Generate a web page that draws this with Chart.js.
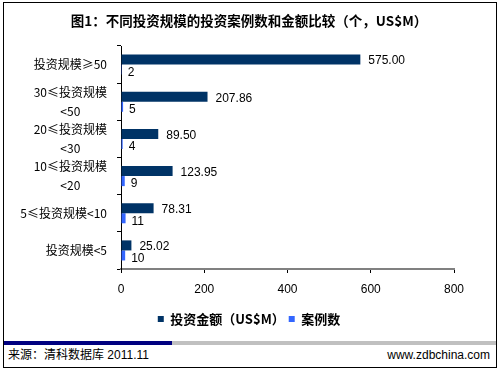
<!DOCTYPE html>
<html>
<head>
<meta charset="utf-8">
<script src="https://cdn.jsdelivr.net/npm/chart.js@4.4.0/dist/chart.umd.min.js"></script>
<style>
body { margin: 0; background: #fff; }
#wrap { position: relative; width: 498px; height: 369px; font-family: "Liberation Sans", "Noto Sans CJK SC", sans-serif; }
#frame { position: absolute; left: 3px; top: 2px; width: 494px; height: 366px; box-sizing: border-box; border: 1px solid #000; }
#chart { position: absolute; left: 0; top: 0; }
.bar { position: absolute; top: 341px; height: 4px; }
.foot { position: absolute; top: 348px; font-size: 12px; line-height: 14px; color: #000; }
</style>
</head>
<body>
<div id="wrap">
  <div id="frame"></div>
  <canvas id="chart" width="498" height="340"></canvas>
  <div class="bar" style="left:4px;width:168px;background:#000080"></div>
  <div class="bar" style="left:172px;width:324px;background:#c0c0c0"></div>
  <div class="foot" style="left:8px">来源：清科数据库 2011.11</div>
  <div class="foot" style="right:8px">www.zdbchina.com</div>
</div>
<script>
// 数据
const categories = [
    ["投资规模≥50"],
    ["30≤投资规模", "<50"],
    ["20≤投资规模", "<30"],
    ["10≤投资规模", "<20"],
    ["5≤投资规模<10"],
    ["投资规模<5"]
];
const amountValues = [575.00, 207.86, 89.50, 123.95, 78.31, 25.02]; // 投资金额（US$M）
const caseValues = [2, 5, 4, 9, 11, 10]; // 案例数
const xTicks = [0, 200, 400, 600, 800];

Chart.defaults.font.family = '"Liberation Sans", "Noto Sans CJK SC", sans-serif';
Chart.defaults.color = "#000";

// 柱子末端的数值
const barLabels = {
    id: "barLabels",
    afterDatasetsDraw(chart) {
        const ctx = chart.ctx;
        ctx.save();
        ctx.font = '12px "Liberation Sans", sans-serif';
        ctx.fillStyle = "#000";
        ctx.textAlign = "left";
        ctx.textBaseline = "middle";
        chart.data.datasets.forEach((ds, i) => {
            chart.getDatasetMeta(i).data.forEach((bar, j) => {
                const txt = i === 0 ? ds.data[j].toFixed(2) : String(ds.data[j]);
                ctx.fillText(txt, bar.x + (i === 0 ? 8 : 6), bar.y + (i === 0 ? 1.5 : 3));
            });
        });
        ctx.restore();
    }
};

// Y轴标签：多行居中，整体右对齐
const yLabels = {
    id: "yLabels",
    afterDraw(chart) {
        const ctx = chart.ctx;
        const scale = chart.scales.y;
        ctx.save();
        ctx.font = '12px "Noto Sans CJK SC", "Liberation Sans", sans-serif';
        ctx.fillStyle = "#000";
        ctx.textAlign = "center";
        ctx.textBaseline = "middle";
        const right = scale.right - 14;
        chart.data.labels.forEach((lines, i) => {
            const y = scale.getPixelForTick(i);
            const w = Math.max(...lines.map(l => ctx.measureText(l).width));
            lines.forEach((l, k) => {
                ctx.fillText(l, right - w / 2, y + (k - (lines.length - 1) / 2) * 19);
            });
        });
        ctx.restore();
    }
};

new Chart(document.getElementById("chart"), {
    type: "bar",
    data: {
        labels: categories,
        datasets: [{
            label: "投资金额（US$M）",
            data: amountValues,
            backgroundColor: "#003366",
            categoryPercentage: 0.54,
            barPercentage: 1.0
        }, {
            label: "案例数",
            data: caseValues,
            backgroundColor: "#3366ff",
            categoryPercentage: 0.54,
            barPercentage: 1.0
        }]
    },
    options: {
        indexAxis: "y",
        responsive: false,
        animation: false,
        layout: { padding: { left: 0, right: 0, top: 0, bottom: 4.5 } },
        scales: {
            x: {
                min: xTicks[0],
                max: xTicks[xTicks.length - 1],
                ticks: { stepSize: xTicks[1] - xTicks[0], padding: 9, font: { size: 12 }, color: "#000" },
                grid: { drawOnChartArea: false, tickLength: 4, color: "#000" },
                border: { color: "#808080", width: 2 },
                afterFit(s) {
                    s.height = 39.5;
                    s.paddingRight = 44;
                }
            },
            y: {
                ticks: { display: false },
                grid: { drawOnChartArea: false, tickLength: 4, color: "#000" },
                border: { color: "#000", width: 1 },
                afterFit(s) {
                    s.width = 121;
                }
            }
        },
        plugins: {
            title: {
                display: true,
                text: "图1：不同投资规模的投资案例数和金额比较（个，US$M）",
                font: { size: 13.5, weight: "bold", family: '"Noto Sans CJK SC", "Liberation Sans", sans-serif' },
                color: "#000",
                padding: { top: 13, bottom: 16.8 }
            },
            legend: {
                position: "bottom",
                labels: {
                    boxWidth: 6,
                    boxHeight: 6,
                    padding: 4,
                    color: "#000",
                    font: { size: 13, weight: "bold", family: '"Noto Sans CJK SC", "Liberation Sans", sans-serif' }
                }
            },
            tooltip: { enabled: false }
        }
    },
    plugins: [barLabels, yLabels]
});
</script>
</body>
</html>
